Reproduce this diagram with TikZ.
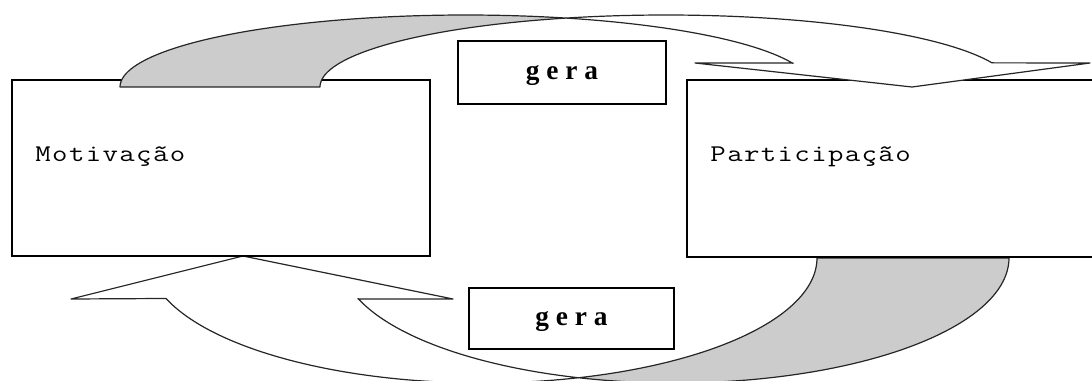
\documentclass[tikz,border=0pt]{standalone}
\usepackage{graphicx}
\usepackage{fontspec}
\newfontfamily\verbfont{Liberation Serif}
\usetikzlibrary{backgrounds}
% typewriter word: each letter widened and set on a fixed advance
\makeatletter
\newcommand\widetype[1]{\@tfor\wtchar:=#1\do{\makebox[12.6pt][c]{\scalebox{1.25}[1]{\wtchar}}}}
\makeatother
\begin{document}
\begin{tikzpicture}[x=0.75pt,y=-0.75pt,
  box/.style={draw=black, line width=1.7pt, fill=white, inner sep=0pt},
  ribbon/.style={draw=black!85, line width=0.9pt, line join=round},
  front/.style={ribbon, fill=white},
  back/.style={ribbon, fill=black!20},
  word/.style={font=\fontsize{18}{20}\ttfamily, anchor=base west, inner sep=0pt},
  verb/.style={font=\fontsize{20.5}{24}\verbfont\bfseries}
]
\useasboundingbox (0,0) rectangle (1092,381);

% the two concepts
\node[box, minimum width=313.5pt, minimum height=132pt] (mot) at (221,168) {};
\node[box, minimum width=309.75pt, minimum height=132.75pt] (part) at (893.5,168.5) {};
\node[word] (tmot) at (34.5,162) {\widetype{Motivação}};
\node[word] (tpart) at (709.5,162) {\widetype{Participação}};

% the two "gera" labels
\node[box, verb, minimum width=156pt, minimum height=47.25pt, text depth=0pt] (gera1) at (562,72.5) {g e r a};
\node[box, verb, minimum width=153.75pt, minimum height=45.75pt, text depth=0pt] (gera2) at (571.5,318.5) {g e r a};

% upper curved arrow: Motivação -> Participação
\draw[back] (120,87)
  -- plot[domain=-180:-73.2, samples=60, variable=\t] ({466+346*cos(\t)},{87+72*sin(\t)})
  -- plot[domain=-106.8:-180, samples=60, variable=\t] ({666+346*cos(\t)},{87+72*sin(\t)})
  -- cycle;
\draw[front]
  plot[domain=-106.8:-19.6, samples=60, variable=\t] ({666+346*cos(\t)},{87+72*sin(\t)})
  -- (1090,63) -- (912,87) -- (695,63) -- (793,63)
  -- plot[domain=-19.1:-73.2, samples=60, variable=\t] ({466+346*cos(\t)},{87+72*sin(\t)})
  -- cycle;

% lower curved arrow: Participação -> Motivação
\begin{scope}[on background layer]
\draw[back]
  plot[domain=73.3:0, samples=60, variable=\t] ({482.5+334.5*cos(\t)},{258+125*sin(\t)})
  -- plot[domain=0:106.7, samples=60, variable=\t] ({674.5+334.5*cos(\t)},{258+125*sin(\t)})
  -- cycle;
\draw[front] (71,299) -- (243,256) -- (453,299) -- (358,299)
  -- plot[domain=161.1:106.7, samples=60, variable=\t] ({674.5+334.5*cos(\t)},{258+125*sin(\t)})
  -- plot[domain=73.3:161.1, samples=60, variable=\t] ({482.5+334.5*cos(\t)},{258+125*sin(\t)})
  -- cycle;
\end{scope}
\end{tikzpicture}
\end{document}
